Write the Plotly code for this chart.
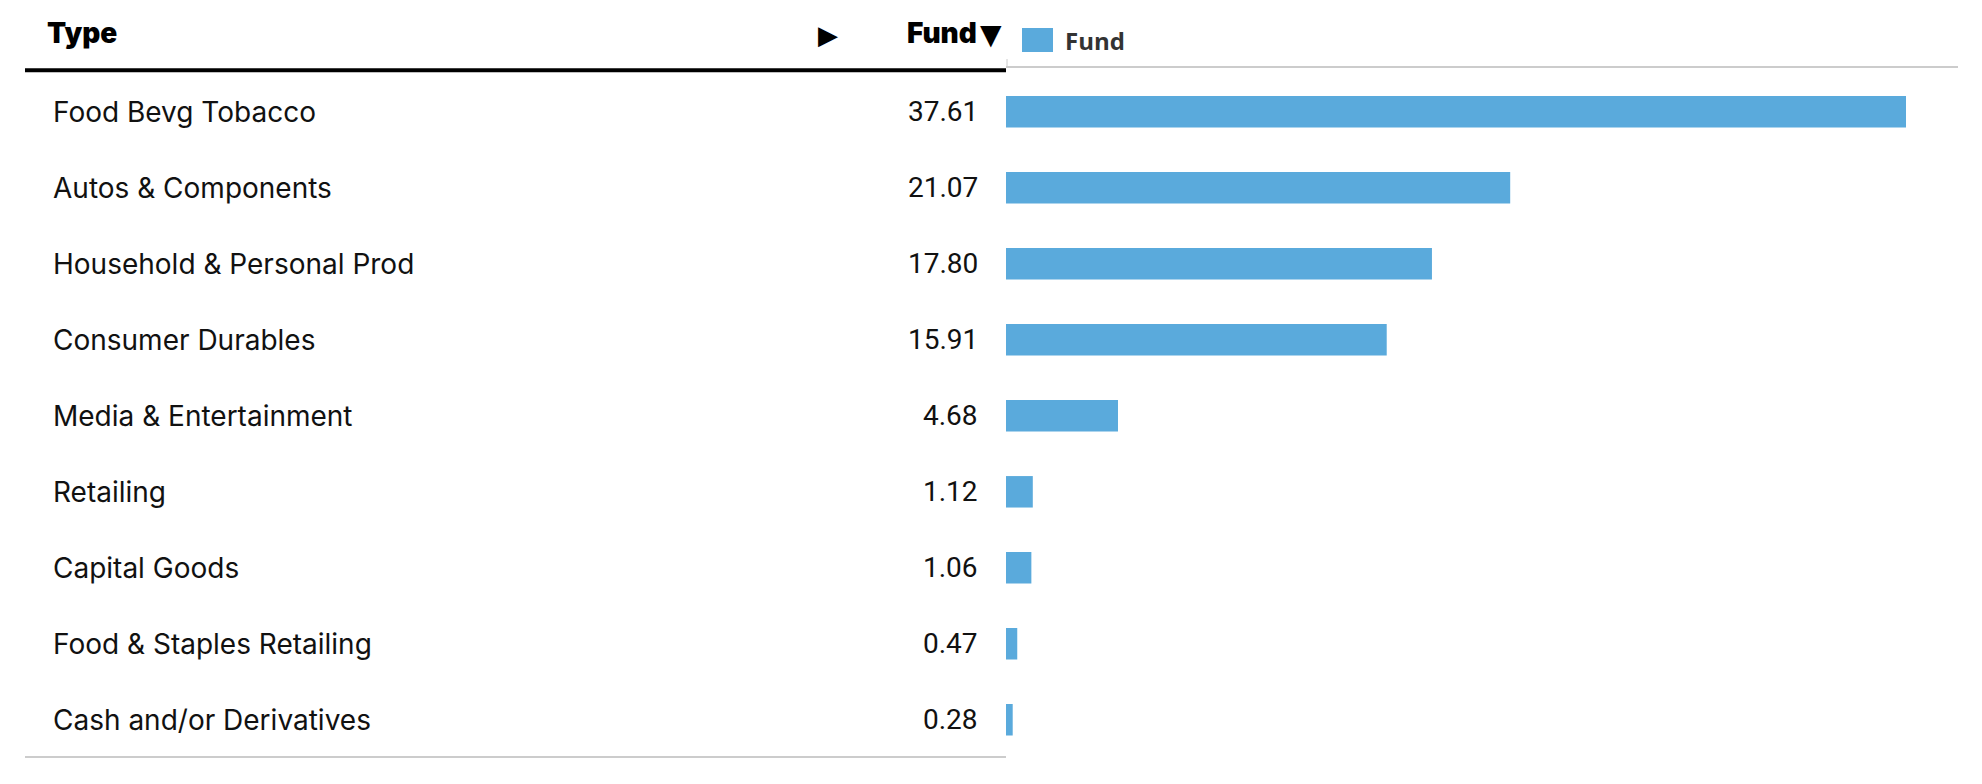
import plotly.graph_objects as go

# ---- data ----
categories = [
    "Food Bevg Tobacco",
    "Autos & Components",
    "Household & Personal Prod",
    "Consumer Durables",
    "Media & Entertainment",
    "Retailing",
    "Capital Goods",
    "Food & Staples Retailing",
    "Cash and/or Derivatives",
]
fund_values = [37.61, 21.07, 17.80, 15.91, 4.68, 1.12, 1.06, 0.47, 0.28]
series_name = "Fund"
col_header_type = "Type"
col_header_fund = "Fund"

# ---- layout helpers (pixel -> paper), page body has an 8px offset ----
W, H = 1982, 784
OFF = 8
def px(x):
    return (x - OFF) / W
def py(y):
    return 1 - (y - OFF) / H

BAR_COLOR = "#5aaadc"
TABLE_FONT = "Inter"

fig = go.Figure()
fig.add_trace(go.Bar(
    x=fund_values,
    y=categories,
    orientation="h",
    name=series_name,
    marker=dict(color=BAR_COLOR, line=dict(width=0)),
    showlegend=False,
    hoverinfo="x+y",
))

annotations = []
# row labels and values
for cat, val in zip(categories, fund_values):
    annotations.append(dict(
        x=px(51), xref="paper", y=cat, yref="y",
        text=cat, showarrow=False, xanchor="left", yanchor="middle",
        font=dict(family=TABLE_FONT, size=28, color="#111111"),
    ))
    annotations.append(dict(
        x=px(980), xref="paper", y=cat, yref="y",
        text=f"{val:.2f}", showarrow=False, xanchor="right", yanchor="middle",
        font=dict(family="Roboto", size=28, color="#111111"),
    ))

# headers
annotations.append(dict(
    x=px(45), xref="paper", y=py(33), yref="paper",
    text=col_header_type, showarrow=False, xanchor="left", yanchor="middle",
    font=dict(family=TABLE_FONT, size=28, color="#000000", weight=900),
))
annotations.append(dict(
    x=px(828), xref="paper", y=py(35), yref="paper",
    text="▶", showarrow=False, xanchor="center", yanchor="middle",
    font=dict(family="DejaVu Sans", size=26, color="#000000"),
))
annotations.append(dict(
    x=px(979), xref="paper", y=py(33), yref="paper",
    text=col_header_fund,
    showarrow=False, xanchor="right", yanchor="middle",
    font=dict(family=TABLE_FONT, size=28, color="#000000", weight=900),
))
annotations.append(dict(
    x=px(990.5), xref="paper", y=py(35), yref="paper",
    text="▼",
    showarrow=False, xanchor="center", yanchor="middle",
    font=dict(family="DejaVu Sans", size=28, color="#000000"),
))
# legend text
annotations.append(dict(
    x=px(1063), xref="paper", y=py(41), yref="paper",
    text=series_name, showarrow=False, xanchor="left", yanchor="middle",
    font=dict(family="Open Sans", size=24, color="#333333", weight=700),
))

shapes = [
    # thick black header line
    dict(type="line", xref="paper", yref="paper", x0=px(25), x1=px(1006),
         y0=py(70.3), y1=py(70.3), line=dict(color="#000000", width=4)),
    # bottom gray line of table
    dict(type="line", xref="paper", yref="paper", x0=px(25), x1=px(1006),
         y0=py(757), y1=py(757), line=dict(color="#cccccc", width=2)),
    # top gray axis line of chart
    dict(type="line", xref="paper", yref="paper", x0=px(1006), x1=px(1958),
         y0=py(67), y1=py(67), line=dict(color="#cccccc", width=2)),
    # small tick
    dict(type="line", xref="paper", yref="paper", x0=px(1007), x1=px(1007),
         y0=py(59), y1=py(67), line=dict(color="#cccccc", width=1)),
    # legend swatch
    dict(type="rect", xref="paper", yref="paper", x0=px(1022), x1=px(1053),
         y0=py(52), y1=py(28), fillcolor=BAR_COLOR, line=dict(width=0)),
]

fig.update_layout(
    width=W, height=H,
    margin=dict(l=0, r=0, t=0, b=0),
    paper_bgcolor="white", plot_bgcolor="white",
    bargap=0.586,
    xaxis=dict(domain=[px(1006), px(1958)], range=[0, 37.61 * 952 / 900],
               showgrid=False, zeroline=False, showticklabels=False, showline=False,
               fixedrange=True),
    yaxis=dict(domain=[py(757.8), py(73.8)],
               categoryorder="array", categoryarray=categories,
               autorange="reversed",
               showgrid=False, zeroline=False, showticklabels=False, showline=False,
               fixedrange=True),
    annotations=annotations,
    shapes=shapes,
)

fig.write_html("out.html")
